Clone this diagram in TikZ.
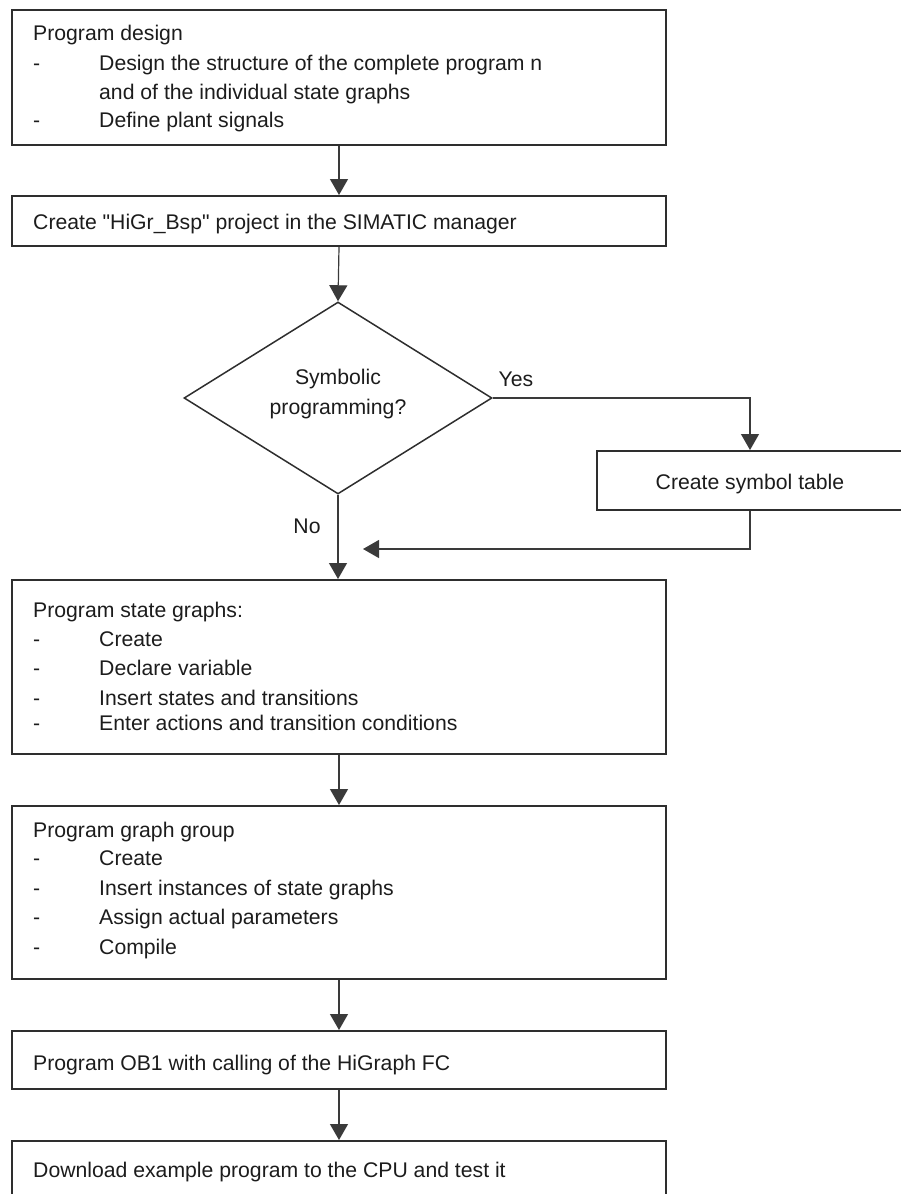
\documentclass[tikz,border=0pt]{standalone}
\usepackage{fontspec}
\setmainfont{Liberation Sans}
\usetikzlibrary{shapes.geometric,arrows.meta}
\definecolor{boxgray}{HTML}{2E2E2E}
\definecolor{linegray}{HTML}{3A3A3A}
\definecolor{textgray}{HTML}{1C1C1C}
% straight double quote, bypassing the TeX ligature mapping
\newcommand\straightquote{\XeTeXglyph\XeTeXcharglyph"22\relax}

\begin{document}
\begin{tikzpicture}[x=1pt,y=-1pt,
  box/.style={draw=boxgray, line width=2pt, rectangle, inner sep=0pt, minimum width=654pt},
  txt/.style={anchor=base west, inner sep=0pt, font=\fontsize{21.2}{25}\selectfont, text=textgray},
  ctxt/.style={txt, anchor=base},
  flow/.style={draw=linegray, line width=1.2pt, -{Triangle[length=16pt,width=18pt]}},
]
\useasboundingbox (0,0) rectangle (901,1194);
\clip (0,0) rectangle (901,1194);

% process boxes
\node[box, minimum height=135pt] (b1) at (339,77.5) {};
\node[box, minimum height=50pt]  (b2) at (339,221) {};
\node[draw=boxgray, line width=1.5pt, diamond, inner sep=0pt,
      minimum width=308pt, minimum height=192pt] (dia) at (338,398) {};
\node[box, minimum width=306pt, minimum height=59pt] (sym) at (750,480.5) {};
\node[box, minimum height=174pt] (b3) at (339,667) {};
\node[box, minimum height=173pt] (b4) at (339,892.5) {};
\node[box, minimum height=58pt]  (b5) at (339,1060) {};
\node[box, minimum height=58pt]  (b6) at (339,1170) {};
\coordinate (ret) at (363,549);

% texts of the first box
\node[txt] (t1a) at (33,40)  {Program design};
\node[txt] (d1a) at (33,70)  {-};
\node[txt] (t1b) at (99,70)  {Design the structure of the complete program n};
\node[txt] (t1c) at (99,99)  {and of the individual state graphs};
\node[txt] (d1b) at (33,127) {-};
\node[txt] (t1d) at (99,127) {Define plant signals};

\node[txt] (t2) at (33,229) {Create \straightquote HiGr\_Bsp\straightquote{} project in the SIMATIC manager};

% decision
\node[ctxt] (q1) at (338,384) {Symbolic};
\node[ctxt] (q2) at (338,414) {programming?};
\node[ctxt] (yes) at (516,386) {Yes};
\node[ctxt] (no)  at (307,533) {No};
\node[ctxt] (tsym) at (750,489) {Create symbol table};

% texts of the state graph box
\node[txt] (t3a) at (33,617) {Program state graphs:};
\node[txt] (d3a) at (33,646) {-};
\node[txt] (t3b) at (99,646) {Create};
\node[txt] (d3b) at (33,675) {-};
\node[txt] (t3c) at (99,675) {Declare variable};
\node[txt] (d3c) at (33,705) {-};
\node[txt] (t3d) at (99,705) {Insert states and transitions};
\node[txt] (d3d) at (33,730) {-};
\node[txt] (t3e) at (99,730) {Enter actions and transition conditions};

% texts of the graph group box
\node[txt] (t4a) at (33,837) {Program graph group};
\node[txt] (d4a) at (33,865) {-};
\node[txt] (t4b) at (99,865) {Create};
\node[txt] (d4b) at (33,895) {-};
\node[txt] (t4c) at (99,895) {Insert instances of state graphs};
\node[txt] (d4c) at (33,924) {-};
\node[txt] (t4d) at (99,924) {Assign actual parameters};
\node[txt] (d4d) at (33,954) {-};
\node[txt] (t4e) at (99,954) {Compile};

\node[txt] (t5) at (33,1070) {Program OB1 with calling of the HiGraph FC};
\node[txt] (t6) at (33,1177) {Download example program to the CPU and test it};

% connectors
\draw[flow] (b1.south) -- (b2.north);
\draw[flow] (b2.south) -- (dia.north);
\draw[flow] (dia.south) -- (dia.south |- b3.north);
\draw[flow] (dia.east) -| (sym.north);
\draw[flow] (sym.south) |- (ret);
\draw[flow] (b3.south) -- (b4.north);
\draw[flow] (b4.south) -- (b5.north);
\draw[flow] (b5.south) -- (b6.north);
\end{tikzpicture}
\end{document}
